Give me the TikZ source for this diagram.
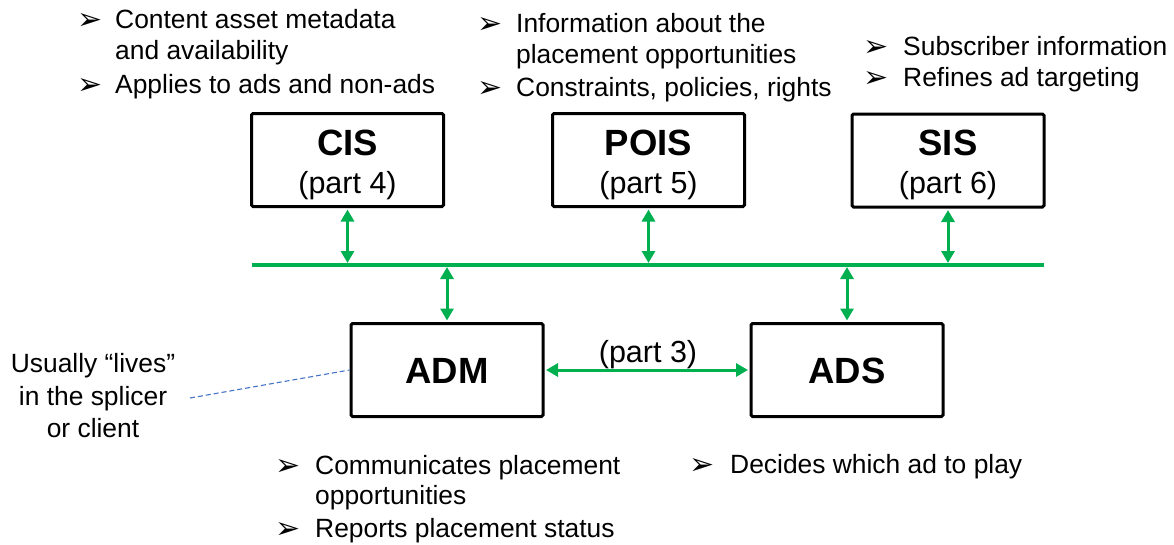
\documentclass[tikz,border=0pt]{standalone}
\usepackage{fontspec}
\setmainfont{Liberation Sans}
\newfontfamily\dingfont{DejaVu Sans}
\usetikzlibrary{arrows.meta}
\definecolor{busgreen}{HTML}{00B050}
\definecolor{noteblue}{HTML}{4472C4}

\begin{document}
\begin{tikzpicture}[x=1pt,y=-1pt,
  box/.style={draw=black, line width=3pt, rounded corners=1.5pt,
    minimum width=192pt, minimum height=93pt, inner sep=0pt},
  boxtitle/.style={anchor=base, inner sep=0pt,
    font=\fontsize{36.5}{40}\selectfont\bfseries},
  boxpart/.style={anchor=base, inner sep=0pt,
    font=\fontsize{30.5}{34}\selectfont},
  bul/.style={anchor=base west, inner sep=0pt,
    font=\fontsize{30}{34}\dingfont},
  item/.style={anchor=base west, inner sep=0pt,
    font=\fontsize{26.4}{30}\selectfont},
  notetext/.style={anchor=base, inner sep=0pt,
    font=\fontsize{26.4}{30}\selectfont},
  bus/.style={draw=busgreen, line width=4pt},
  link/.style={draw=busgreen, line width=3pt,
    {Triangle[length=12pt,width=13pt]}-{Triangle[length=12pt,width=13pt]}},
  note/.style={draw=noteblue, line width=1.1pt, dash pattern=on 5pt off 3pt}
]
\useasboundingbox (0,0) rectangle (1174,544);

% information services
\node[box] (cis)  at (347.5,160) {};
\node[box] (pois) at (648.5,160) {};
\node[box] (sis)  at (948,160.5) {};
\node[boxtitle] (cisT)  at (347.5,155) {CIS};
\node[boxpart]  (cisP)  at (347.5,193) {(part 4)};
\node[boxtitle] (poisT) at (648.5,155) {POIS};
\node[boxpart]  (poisP) at (648.5,193) {(part 5)};
\node[boxtitle] (sisT)  at (948,155) {SIS};
\node[boxpart]  (sisP)  at (948,193) {(part 6)};

% decision manager and server
\node[box] (adm) at (447,370) {};
\node[box] (ads) at (847,370) {};
\node[boxtitle] (admT) at (447,383) {ADM};
\node[boxtitle] (adsT) at (847,383) {ADS};

% message bus
\coordinate (busL) at (252,265);
\coordinate (busR) at (1044,265);
\draw[bus] (busL) -- (busR);

\draw[link, shorten <=1.5pt, shorten >=2pt] (cis.south)  -- (cis.south  |- busL);
\draw[link, shorten <=1.5pt, shorten >=2pt] (pois.south) -- (pois.south |- busL);
\draw[link, shorten <=1.5pt, shorten >=2pt] (sis.south)  -- (sis.south  |- busL);
\draw[link, shorten <=2pt, shorten >=1.5pt] (adm.north |- busL) -- (adm.north);
\draw[link, shorten <=2pt, shorten >=1.5pt] (ads.north |- busL) -- (ads.north);

% ADM <-> ADS
\draw[link, shorten <=1.5pt, shorten >=1.5pt] (adm.east) -- (ads.west);
\node[boxpart] (p3) at (648,362) {(part 3)};

% CIS notes
\node[bul]  (cb1)  at (77,29) {➢};
\node[item] (ci1)  at (115,28) {Content asset metadata};
\node[item] (ci1b) at (115,59) {and availability};
\node[bul]  (cb2)  at (77,94) {➢};
\node[item] (ci2)  at (115,93) {Applies to ads and non-ads};

% POIS notes
\node[bul]  (pb1)  at (477,33) {➢};
\node[item] (pi1)  at (516,32) {Information about the};
\node[item] (pi1b) at (516,63) {placement opportunities};
\node[bul]  (pb2)  at (477,97) {➢};
\node[item] (pi2)  at (516,96) {Constraints, policies, rights};

% SIS notes
\node[bul]  (sb1) at (863,56) {➢};
\node[item] (si1) at (903,55) {Subscriber information};
\node[bul]  (sb2) at (863,87) {➢};
\node[item] (si2) at (903,86) {Refines ad targeting};

% ADM notes
\node[bul]  (ab1)  at (275,475) {➢};
\node[item] (ai1)  at (315,474) {Communicates placement};
\node[item] (ai1b) at (315,504) {opportunities};
\node[bul]  (ab2)  at (275,538) {➢};
\node[item] (ai2)  at (315,537) {Reports placement status};

% ADS note
\node[bul]  (db1) at (689,474) {➢};
\node[item] (di1) at (730,473) {Decides which ad to play};

% where the ADM runs
\node[notetext] (n1) at (93,372) {Usually “lives”};
\node[notetext] (n2) at (93,405) {in the splicer};
\node[notetext] (n3) at (93,437) {or client};
\coordinate (noteend) at (190,398);
\draw[note] (noteend) -- (adm.west);
\end{tikzpicture}
\end{document}
